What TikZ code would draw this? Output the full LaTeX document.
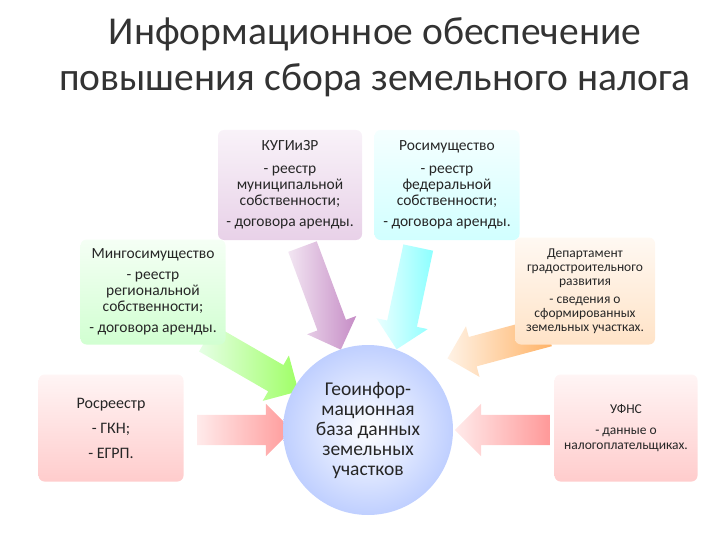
\documentclass[tikz,border=0pt]{standalone}
\usepackage{fontspec}
\setmainfont{Carlito}
\usetikzlibrary{shapes.arrows}
\begin{document}
\begin{tikzpicture}[x=1pt,y=-1pt,
 box/.style={rounded corners=6pt,align=center,font=\fontsize{15.5}{16}\selectfont,inner sep=2pt,text=black!85},
 fat/.style={single arrow,minimum width=52pt,single arrow head extend=11pt,inner xsep=0pt,inner ysep=15pt,draw=none,shading=axis,shading angle=90}]
\useasboundingbox (0,0) rectangle (720,540);
\node (t) at (375,57) [align=center,font=\fontsize{39.5}{46}\selectfont,text=black!80] {Информационное обеспечение\\повышения сбора земельного налога};
% arrows
\node (a1) [fat,minimum height=110pt,rotate=-69.6,left color=violet!10,right color=violet!45] at (319,291) {};
\node (a2) [fat,minimum height=104pt,rotate=-102,left color=cyan!8,right color=cyan!45] at (409,291) {};
\node (a3) [fat,minimum height=106pt,rotate=-30,left color=green!10,right color=green!50!lime!60] at (246,361) {};
\node (a4) [fat,minimum height=104pt,rotate=195,left color=orange!10,right color=orange!60] at (505,343) {};
\node (a5) [fat,minimum height=95pt,left color=red!8,right color=red!40] at (237,430) {};
\node (a6) [fat,minimum height=95pt,rotate=180,left color=red!8,right color=red!40] at (510,430) {};
% boxes
\node (b1) [box,minimum width=144pt,minimum height=110pt,top color=violet!5,bottom color=violet!18] at (290,185) {КУГИиЗР\\[7pt]- реестр\\муниципальной\\собственности;\\[5pt]- договора аренды.};
\node (b2) [box,minimum width=145pt,minimum height=110pt,top color=cyan!4,bottom color=cyan!18] at (447,185) {Росимущество\\[7pt]- реестр\\федеральной\\собственности;\\[5pt]- договора аренды.};
\node (b3) [box,minimum width=145pt,minimum height=105pt,top color=green!4,bottom color=green!18] at (153,292) {Мингосимущество\\[5pt]- реестр\\региональной\\собственности;\\[5pt]- договора аренды.};
\node (b4) [box,minimum width=140pt,minimum height=107pt,top color=orange!5,bottom color=orange!22,font=\fontsize{13.5}{14}\selectfont] at (585,291) {Департамент\\градостроительного\\развития\\[4pt]- сведения о\\сформированных\\земельных участках.};
\node (b5) [box,minimum width=145pt,minimum height=107pt,top color=red!4,bottom color=red!20,font=\fontsize{16}{17}\selectfont] at (111,428) {Росреестр\\[8pt]- ГКН;\\[8pt]- ЕГРП.};
\node (b6) [box,minimum width=143pt,minimum height=107pt,top color=red!4,bottom color=red!20,font=\fontsize{13.5}{15}\selectfont] at (626,428) {УФНС\\[6pt]- данные о\\налогоплательщиках.};
\node (c) [circle,minimum size=170pt,inner sep=0pt,inner color=white,outer color=cyan!25!blue!25,align=center,font=\fontsize{19.5}{20}\selectfont,text=black!85] at (368,430) {Геоинфор-\\мационная\\база данных\\земельных\\участков};
\end{tikzpicture}
\end{document}
